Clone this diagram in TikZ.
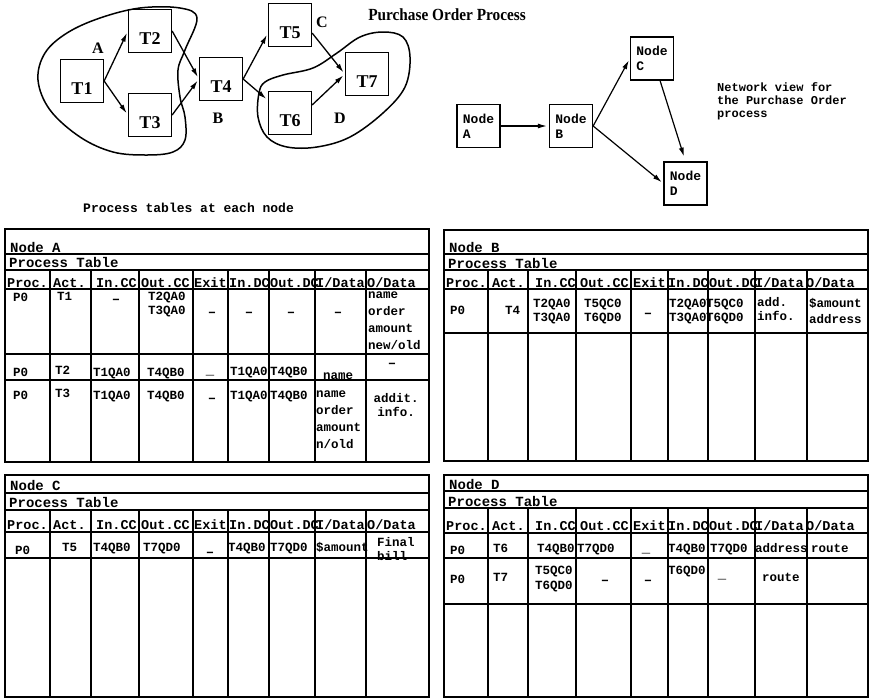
\documentclass[tikz,border=0pt]{standalone}
\usepackage{fontspec}
\setmainfont{Liberation Serif}
\setmonofont{Liberation Mono}
\usetikzlibrary{arrows.meta,positioning}

\begin{document}
\begin{tikzpicture}[
  x=1pt, y=-1pt,
  every node/.style={inner sep=0pt},
  task/.style={draw, line width=1.3pt, minimum width=43pt, minimum height=43pt,
    text height=26pt, text depth=0pt, font=\bfseries\fontsize{18}{20}\selectfont},
  grp/.style={font=\bfseries\fontsize{16}{18}\selectfont},
  arr/.style={line width=1.3pt, -{Latex[length=9pt,width=5pt]}, shorten >=2pt},
  blob/.style={line width=1.5pt},
  net/.style={draw, line width=1.3pt, minimum width=43pt, minimum height=43pt,
    align=left, font=\ttfamily\bfseries\fontsize{13}{15}\selectfont},
  frame/.style={line width=2.4pt},
  rowline/.style={line width=1.8pt},
  colline/.style={line width=1.3pt},
  ttl/.style={anchor=base west, font=\ttfamily\bfseries\fontsize{14}{16}\selectfont},
  hd/.style={anchor=base west, font=\ttfamily\bfseries\fontsize{13.5}{16}\selectfont},
  cell/.style={anchor=base west, align=left, font=\ttfamily\bfseries\fontsize{12.5}{14}\selectfont},
  nil/.style={anchor=base, font=\ttfamily\bfseries\fontsize{14}{14}\selectfont}
]
  \useasboundingbox (0,0) rectangle (869,699);

  % grafo del processo
  \node[font=\bfseries\fontsize{17}{20}\selectfont, xscale=0.9] (title) at (447,15) {Purchase Order Process};
  \node[task] (t1) at (82,81)  {T1};
  \node[task] (t2) at (150,31) {T2};
  \node[task] (t3) at (150,115) {T3};
  \node[task] (t4) at (221,79) {T4};
  \node[task] (t5) at (290,25) {T5};
  \node[task] (t6) at (290,113) {T6};
  \node[task] (t7) at (367,74) {T7};
  \draw[arr] (t1.east) -- (t2.west);
  \draw[arr] (t1.east) -- (t3.west);
  \draw[arr] (t2.east) -- (t4.west);
  \draw[arr] (t3.east) -- (t4.west);
  \draw[arr] (t4.east) -- (t5.200);
  \draw[arr] (t4.east) -- (t6.150);
  \draw[arr] (t5.-20) -- (t7.west);
  \draw[arr] (t6.20) -- (t7.west);
  % gruppi A e D
  \draw[blob] plot[smooth cycle, tension=0.6] coordinates {
    (38,80) (45,53) (67,33) (100,18) (140,8) (180,8) (197,18) (185,50) (178,70)
    (180,97) (185,117) (185,140) (173,152) (147,155) (113,152) (80,137) (50,110)};
  \draw[blob] plot[smooth cycle, tension=0.6] coordinates {
    (265,82) (283,75) (313,68) (337,53) (360,37) (383,32) (403,37) (410,57)
    (405,87) (383,113) (350,137) (317,147) (287,147) (267,137) (258,117) (259,93)};
  \node[grp] (la) at (98,48)  {A};
  \node[grp] (lb) at (218,118) {B};
  \node[grp] (lc) at (322,22) {C};
  \node[grp] (ld) at (340,118) {D};

  % vista di rete
  \node[net] (na) at (478.5,126) {Node\\A};
  \node[net] (nb) at (571,126)   {Node\\B};
  \node[net] (nc) at (652,58.5)  {Node\\C};
  \node[net] (nd) at (685.5,183.5) {Node\\D};
  \draw[arr, line width=1.2pt] (na.east) -- (nb.west);
  \draw[arr, line width=1.2pt] (nb.east) -- (nc.west);
  \draw[arr, line width=1.2pt] (nb.east) -- (nd.west);
  \draw[arr, line width=1.2pt, shorten >=5pt] (nc.290) -- (nd.north);
  \node[anchor=north west, align=left, font=\ttfamily\bfseries\fontsize{12}{13}\selectfont]
    (netlbl) at (717,82) {Network view for\\the Purchase Order\\process};

  \node[anchor=base west, font=\ttfamily\bfseries\fontsize{13}{15}\selectfont]
    (tabcap) at (83,212) {Process tables at each node};

  % griglie delle tabelle
  \draw[frame] (5,229) rectangle (429,462);
  \foreach \ry in {254,270,289,354,380} \draw[rowline] (5,\ry) -- (429,\ry);
  \foreach \cx in {50,91,139,193,228,269,315,366} \draw[colline] (\cx,270) -- (\cx,462);
  \draw[frame] (444,230) rectangle (868,461);
  \foreach \ry in {254,270,289,333} \draw[rowline] (444,\ry) -- (868,\ry);
  \foreach \cx in {488,528,576,631,668,708,755,807} \draw[colline] (\cx,270) -- (\cx,461);
  \draw[frame] (5,475) rectangle (429,697);
  \foreach \ry in {493,510,532,558} \draw[rowline] (5,\ry) -- (429,\ry);
  \foreach \cx in {50,91,139,193,228,269,315,366} \draw[colline] (\cx,510) -- (\cx,697);
  \draw[frame] (444,475) rectangle (868,697);
  \foreach \ry in {491,508,533,558,604} \draw[rowline] (444,\ry) -- (868,\ry);
  \foreach \cx in {488,528,576,631,668,708,755,807} \draw[colline] (\cx,508) -- (\cx,697);

  % intestazioni di colonna
  \foreach \tb/\dx/\hy in {a/0/287, b/439/287, c/0/529, d/439/530}
    \foreach \hx/\hname in {7/{Proc.}, 53/{Act.}, 96/{In.CC}, 141/{Out.CC}, 194/{Exit},
                            229/{In.DC}, 270/{Out.DC}, 316/{I/Data}, 367/{O/Data}}
      \node[hd] (\tb-h\hx) at (\hx+\dx,\hy) {\hname};

  % nodo A (righe multiple: base = ultima riga)
  \node[ttl] (a-name) at (10,252) {Node A};
  \node[ttl] (a-pt) at (9,267) {Process Table};
  \node[cell] (a-p1) at (13,301) {P0};
  \node[cell] (a-t1) at (57,300) {T1};
  \node[nil] (a-ic1) at (116,303) {–};
  \node[cell] (a-oc1) at (148,314) {T2QA0\\T3QA0};
  \node[nil] (a-x1) at (212,316) {–};
  \node[nil] (a-id1) at (249,316) {–};
  \node[nil] (a-od1) at (291,316) {–};
  \node[nil] (a-i1) at (338,316) {–};
  \node[cell] (a-o1) at (368,349) {name\\[3pt]order\\[3pt]amount\\[3pt]new/old};

  \node[cell] (a-p2) at (13,376) {P0};
  \node[cell] (a-t2) at (55,374) {T2};
  \node[cell] (a-ic2) at (93,376) {T1QA0};
  \node[cell] (a-oc2) at (147,376) {T4QB0};
  \node[nil] (a-x2) at (210,374) {\_};
  \node[cell] (a-id2) at (230,375) {T1QA0};
  \node[cell] (a-od2) at (270,375) {T4QB0};
  \node[cell] (a-i2) at (323,379) {name};
  \node[nil] (a-o2) at (392,367) {–};

  \node[cell] (a-p3) at (13,399) {P0};
  \node[cell] (a-t3) at (55,397) {T3};
  \node[cell] (a-ic3) at (93,399) {T1QA0};
  \node[cell] (a-oc3) at (147,399) {T4QB0};
  \node[nil] (a-x3) at (212,402) {–};
  \node[cell] (a-id3) at (230,399) {T1QA0};
  \node[cell] (a-od3) at (270,399) {T4QB0};
  \node[cell] (a-i3) at (316,448) {name\\[3pt]order\\[3pt]amount\\[3pt]n/old};
  \node[cell, anchor=base, align=center] (a-o3) at (396,416) {addit.\\info.};

  % nodo B
  \node[ttl] (b-name) at (449,252) {Node B};
  \node[ttl] (b-pt) at (448,268) {Process Table};
  \node[cell] (b-p1) at (450,314) {P0};
  \node[cell] (b-t1) at (505,314) {T4};
  \node[cell] (b-ic1) at (533,321) {T2QA0\\T3QA0};
  \node[cell] (b-oc1) at (584,321) {T5QC0\\T6QD0};
  \node[nil] (b-x1) at (648,317) {–};
  \node[cell] (b-id1) at (669,321) {T2QA0\\T3QA0};
  \node[cell] (b-od1) at (706,321) {T5QC0\\T6QD0};
  \node[cell] (b-i1) at (757,320) {add.\\info.};
  \node[cell] (b-o1) at (809,323) {\$amount\\[2pt]address};

  % nodo C
  \node[ttl] (c-name) at (10,490) {Node C};
  \node[ttl] (c-pt) at (9,507) {Process Table};
  \node[cell] (c-p1) at (15,554) {P0};
  \node[cell] (c-t1) at (62,551) {T5};
  \node[cell] (c-ic1) at (93,551) {T4QB0};
  \node[cell] (c-oc1) at (143,551) {T7QD0};
  \node[nil] (c-x1) at (210,556) {–};
  \node[cell] (c-id1) at (228,551) {T4QB0};
  \node[cell] (c-od1) at (270,551) {T7QD0};
  \node[cell] (c-i1) at (316,551) {\$amount};
  \node[cell] (c-o1) at (377,560) {Final\\bill};

  % nodo D
  \node[ttl] (d-name) at (449,489) {Node D};
  \node[ttl] (d-pt) at (448,506) {Process Table};
  \node[cell] (d-p1) at (450,554) {P0};
  \node[cell] (d-t1) at (493,552) {T6};
  \node[cell] (d-ic1) at (537,552) {T4QB0};
  \node[cell] (d-oc1) at (577,552) {T7QD0};
  \node[nil] (d-x1) at (646,552) {\_};
  \node[cell] (d-id1) at (668,552) {T4QB0};
  \node[cell] (d-od1) at (710,552) {T7QD0};
  \node[cell] (d-i1) at (755,552) {address};
  \node[cell] (d-o1) at (811,552) {route};

  \node[cell] (d-p2) at (450,583) {P0};
  \node[cell] (d-t2) at (493,581) {T7};
  \node[cell] (d-ic2) at (535,589) {T5QC0\\[1pt]T6QD0};
  \node[nil] (d-oc2) at (605,584) {–};
  \node[nil] (d-x2) at (648,584) {–};
  \node[cell] (d-id2) at (668,574) {T6QD0};
  \node[nil] (d-od2) at (722,578) {\_};
  \node[cell] (d-i2) at (762,581) {route};
\end{tikzpicture}
\end{document}
